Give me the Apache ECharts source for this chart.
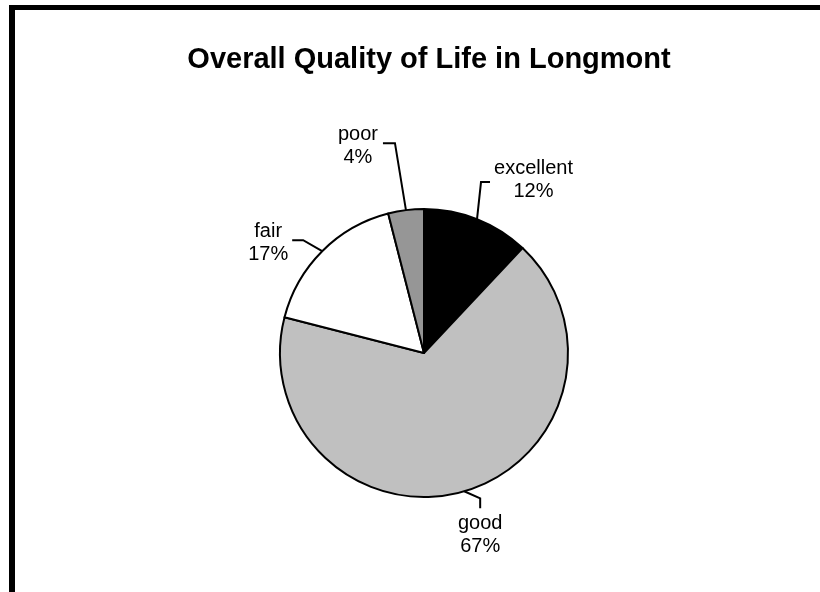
<!DOCTYPE html>
<html>
<head>
<meta charset="utf-8">
<script src="https://cdn.jsdelivr.net/npm/echarts@6/dist/echarts.min.js"></script>
<style>
  html, body { margin: 0; padding: 0; background: #fff; }
  #chart { width: 820px; height: 592px; }
</style>
</head>
<body>
<div id="chart"></div>
<script>
// pie data, clockwise from 12 o'clock
const categories = ['excellent', 'good', 'fair', 'poor'];
const shares = [12, 67, 17, 4];
const sliceColors = ['#000000', '#c0c0c0', '#ffffff', '#969696'];

// leader line shape per label, relative to the point where the line leaves the slice
const guides = [
  { c: [4, -37], e: [13, -37], t: [17, -39], align: 'left', va: 'middle' },
  { c: [16, 7], e: [16, 17], t: [16, 21], align: 'center', va: 'top' },
  { c: [-19, -11], e: [-30, -11], t: [-34, -8], align: 'right', va: 'middle' },
  { c: [-11, -67], e: [-23, -67], t: [-28, -64], align: 'right', va: 'middle' }
];

const font = 'Liberation Sans, Arial, sans-serif';
const chart = echarts.init(document.getElementById('chart'));

chart.setOption({
  backgroundColor: '#ffffff',
  animation: false,
  title: {
    text: 'Overall Quality of Life in Longmont',
    left: 424,
    top: 40,
    textAlign: 'center',
    textStyle: { fontFamily: font, fontSize: 29, fontWeight: 'bold', color: '#000' }
  },
  graphic: [
    { type: 'rect', shape: { x: 9, y: 5, width: 811, height: 5 }, style: { fill: '#000' } },
    { type: 'rect', shape: { x: 9, y: 5, width: 6, height: 587 }, style: { fill: '#000' } }
  ],
  series: [{
    type: 'pie',
    center: [424, 353],
    radius: 144,
    startAngle: 90,
    clockwise: true,
    avoidLabelOverlap: false,
    itemStyle: { borderColor: '#000', borderWidth: 2 },
    label: {
      show: true,
      position: 'outside',
      formatter: '{t|{b}}\n{t|{d}%}',
      rich: {
        t: { align: 'center', fontFamily: font, fontSize: 20, lineHeight: 23, color: '#000' }
      }
    },
    labelLine: {
      show: true,
      length: 20,
      length2: 10,
      lineStyle: { color: '#000', width: 2 }
    },
    labelLayout: function (params) {
      const pts = params.labelLinePoints;
      if (!pts) return {};
      const a = pts[0];
      const g = guides[params.dataIndex];
      return {
        x: a[0] + g.t[0],
        y: a[1] + g.t[1],
        align: g.align,
        verticalAlign: g.va,
        labelLinePoints: [
          [a[0], a[1]],
          [a[0] + g.c[0], a[1] + g.c[1]],
          [a[0] + g.e[0], a[1] + g.e[1]]
        ]
      };
    },
    data: categories.map((name, i) => ({
      name: name,
      value: shares[i],
      itemStyle: { color: sliceColors[i] }
    }))
  }]
});
</script>
</body>
</html>
